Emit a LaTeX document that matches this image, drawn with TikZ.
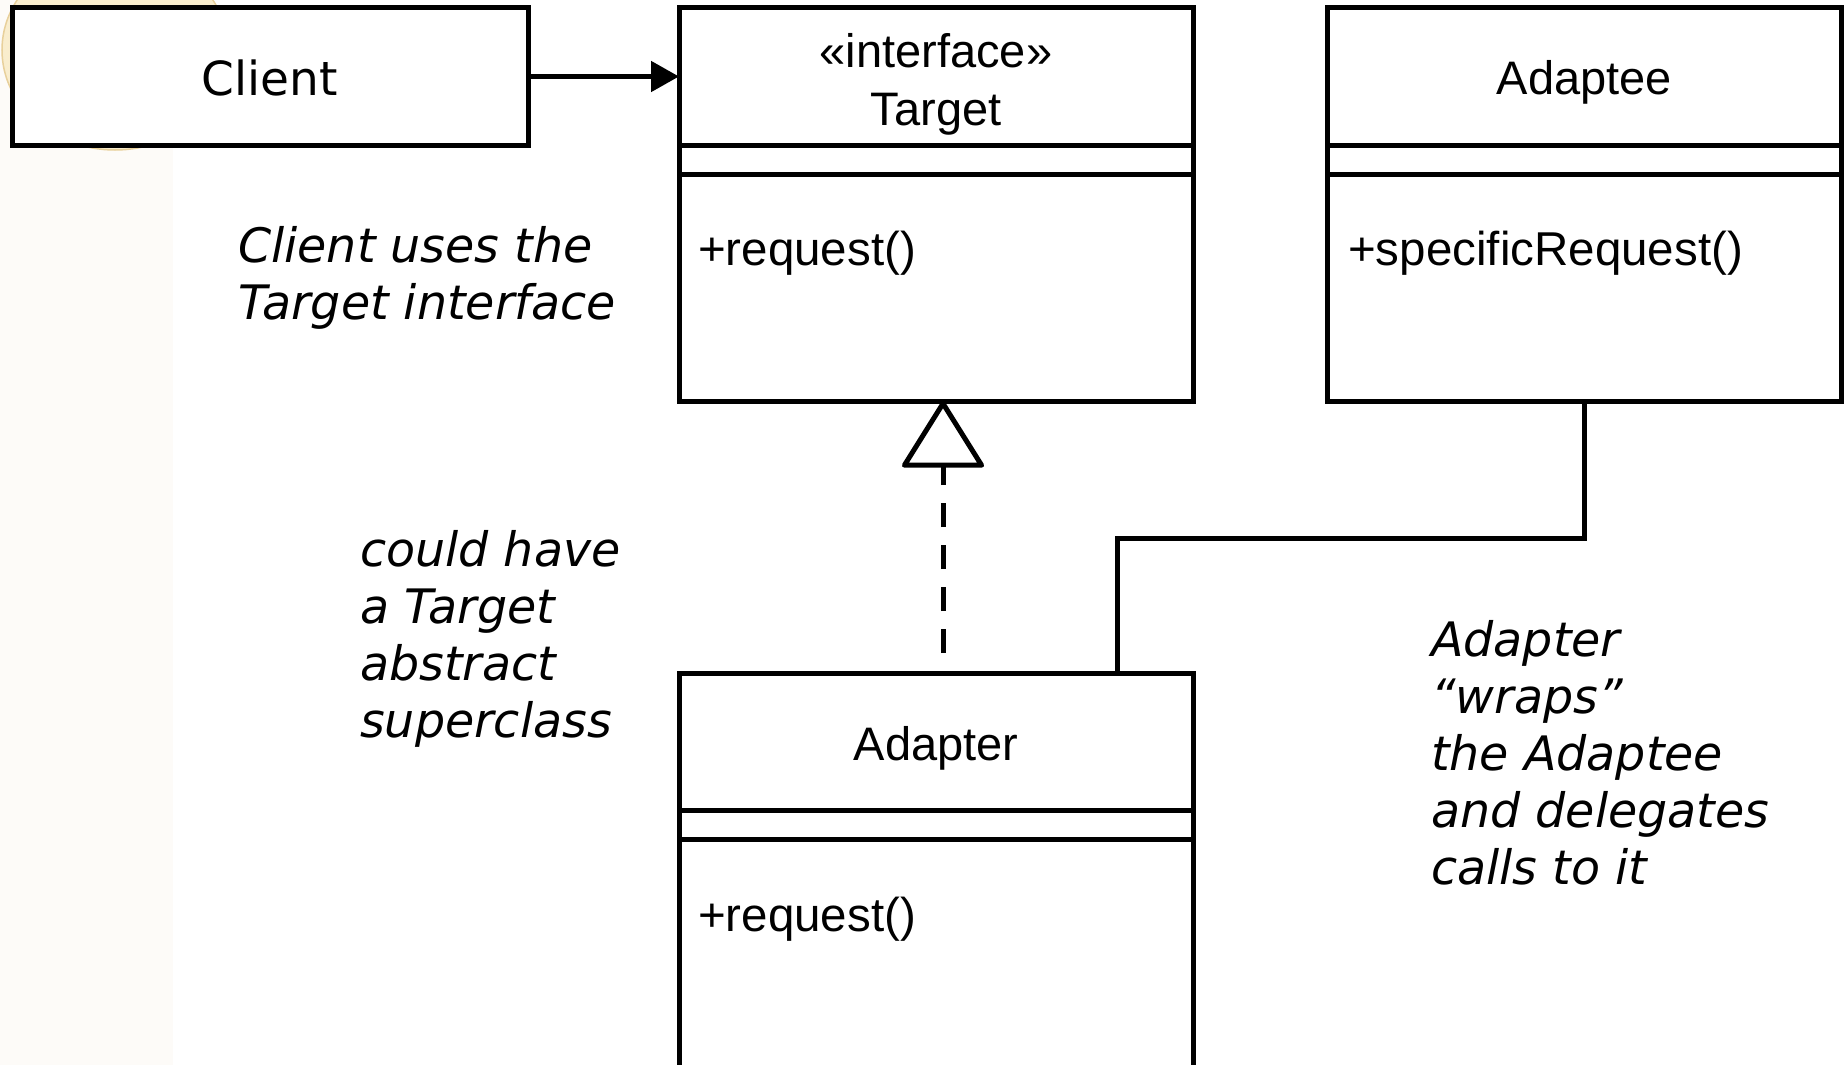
\documentclass[tikz,border=0pt]{standalone}
\usepackage{fontspec}
\usetikzlibrary{arrows.meta}
\setmainfont{Liberation Sans}
\newfontfamily\clientfont{DejaVu Sans}
\newfontfamily\notefont{DejaVu Sans}
\definecolor{sidebar}{RGB}{253,251,248}
\definecolor{blobfill}{RGB}{249,237,205}
\definecolor{blobedge}{RGB}{232,208,155}

\begin{document}
\begin{tikzpicture}[
  x=1pt,
  y=-1pt,
  uml/.style={draw=black,fill=white,line width=5pt,inner sep=0pt,outer sep=0pt,minimum width=514pt},
  sep/.style={line width=5pt},
  cname/.style={font=\fontsize{47}{57}\selectfont,anchor=base,inner sep=0pt},
  op/.style={font=\fontsize{47.5}{57}\selectfont,anchor=base west,inner sep=0pt},
  note/.style={font=\notefont\itshape\fontsize{47.5}{57}\selectfont,align=left,anchor=north west,inner sep=0pt},
  uses/.style={line width=5pt,-{Triangle[length=28pt,width=30pt]}},
  realizes/.style={line width=5pt,dash pattern=on 24pt off 18pt,-{Triangle[open,round,length=69pt,width=85pt]}},
  link/.style={line width=5pt}
]
\useasboundingbox (0,0) rectangle (1845,1065);
\fill[white] (0,0) rectangle (1845,1065);
\fill[sidebar] (0,0) rectangle (173,1065);
\draw[blobedge,fill=blobfill,line width=1.5pt] (115,50) ellipse [x radius=113pt,y radius=100pt];

% class boxes
\node[uml,minimum width=516pt,minimum height=137pt,text height=39pt,
  font=\clientfont\fontsize{47}{57}\selectfont] (client) at (270,76.5) {Client};
\node[uml,minimum height=393pt] (target) at (936,204.5) {};
\node[uml,minimum height=393pt] (adaptee) at (1584.5,204.5) {};
\node[uml,minimum height=396pt] (adapter) at (936,871) {};
\foreach \cls in {target,adaptee,adapter}
  \foreach \dy in {137,166}
    \draw[sep] ([yshift=-\dy pt]\cls.north west) -- ([yshift=-\dy pt]\cls.north east);

\node[cname] (target-stereo) at (936,67) {«interface»};
\node[cname] (target-name) at (936,125) {Target};
\node[cname] (adaptee-name) at (1584.5,95) {Adaptee};
\node[cname] (adapter-name) at (936,760) {Adapter};
\node[op] (target-op) at (698,265) {+request()};
\node[op] (adaptee-op) at (1348,265) {+specificRequest()};
\node[op] (adapter-op) at (698,931) {+request()};

% notes
\node[note] (note-uses) at (238,226) {Client uses the\\Target interface};
\node[note] (note-super) at (360,530) {could have\\a Target\\abstract\\superclass};
\node[note] (note-wraps) at (1431,620) {Adapter\\“wraps”\\the Adaptee\\and delegates\\calls to it};

% relations
\draw[uses] (client.east) -- (client.east -| target.west);
\draw[realizes,shorten <=20pt] ([xshift=7pt]adapter.north) -- ([xshift=7pt]target.south);
\draw[link] (adaptee.south) -- ++(0,137) -| ([xshift=181pt]adapter.north);
\end{tikzpicture}
\end{document}
